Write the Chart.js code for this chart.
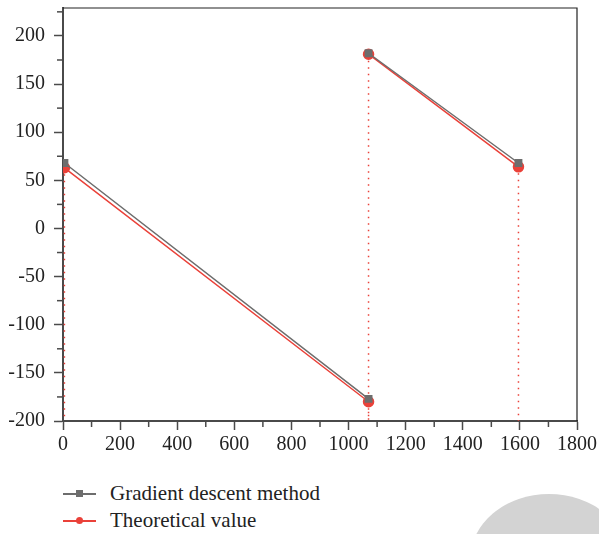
<!DOCTYPE html>
<html>
<head>
<meta charset="utf-8">
<script src="https://cdn.jsdelivr.net/npm/chart.js@4.4.1/dist/chart.umd.min.js"></script>
<style>
  html, body { margin: 0; padding: 0; background: #fff; }
  #wrap { position: relative; width: 599px; height: 534px; overflow: hidden; }
  #box { position: absolute; left: 0; top: 0; width: 599px; height: 455px; }
  #legend { position: absolute; left: 63px; top: 480px; font-family: "Liberation Serif", "DejaVu Serif", serif; font-size: 21px; color: #222; }
  .row { display: flex; align-items: center; height: 27px; }
  .sym { position: relative; width: 33px; height: 12px; margin-right: 14px; }
  .sym .ln { position: absolute; left: 0; right: 0; top: 5px; height: 2px; }
  .sym .mk { position: absolute; left: 13px; top: 2.5px; width: 7px; height: 7px; }
  #blob { position: absolute; left: 470px; top: 494px; width: 158px; height: 132px; border-radius: 50%; background: #d3d3d3; }
</style>
</head>
<body>
<div id="wrap">
  <div id="box"><canvas id="chart"></canvas></div>
  <div id="legend"></div>
  <div id="blob"></div>
</div>
<script>
// valores (null = hueco entre tramos)
const xValues = [5, 1070, 1070, 1070, 1595];
const gradientValues = [68, -177, null, 182, 68];
const theoreticalValues = [63, -180, null, 181, 64];
const labels = ["Gradient descent method", "Theoretical value"];
const xTicks = [0, 200, 400, 600, 800, 1000, 1200, 1400, 1600, 1800];
const yTicks = [-200, -150, -100, -50, 0, 50, 100, 150, 200];

const grayColor = "#6d6d6d";
const redColor = "#ea4139";
const axisColor = "#4a4a4a";
const serif = "'Liberation Serif', 'DejaVu Serif', serif";

const toPoints = values => values.map((v, i) => ({ x: xValues[i], y: v }));

// lineas punteadas desde cada punto teorico hasta el eje x
const dropLines = {
  id: "dropLines",
  beforeDatasetsDraw(chart) {
    const ctx = chart.ctx, area = chart.chartArea;
    const meta = chart.getDatasetMeta(1);
    ctx.save();
    ctx.strokeStyle = redColor;
    ctx.lineWidth = 1.5;
    ctx.setLineDash([1.5, 5]);
    meta.data.forEach((pt, i) => {
      if (theoreticalValues[i] === null) return;
      ctx.beginPath();
      ctx.moveTo(pt.x, pt.y);
      ctx.lineTo(pt.x, area.bottom);
      ctx.stroke();
    });
    ctx.restore();
  }
};

// marco y ticks menores
const frame = {
  id: "frame",
  afterDraw(chart) {
    const ctx = chart.ctx, a = chart.chartArea;
    const xs = chart.scales.x, ys = chart.scales.y;
    ctx.save();
    ctx.strokeStyle = "#222";
    ctx.lineWidth = 1.2;
    ctx.beginPath();
    ctx.moveTo(a.left, a.top);
    ctx.lineTo(a.right, a.top);
    ctx.lineTo(a.right, a.bottom);
    ctx.stroke();
    ctx.strokeStyle = axisColor;
    ctx.lineWidth = 1.5;
    for (let i = 0; i < xTicks.length - 1; i++) {
      const px = xs.getPixelForValue((xTicks[i] + xTicks[i + 1]) / 2);
      ctx.beginPath();
      ctx.moveTo(px, a.bottom);
      ctx.lineTo(px, a.bottom + 6);
      ctx.stroke();
    }
    const minors = [];
    for (let i = 0; i < yTicks.length - 1; i++) minors.push((yTicks[i] + yTicks[i + 1]) / 2);
    minors.push(225);
    minors.forEach(v => {
      const py = ys.getPixelForValue(v);
      ctx.beginPath();
      ctx.moveTo(a.left, py);
      ctx.lineTo(a.left - 6, py);
      ctx.stroke();
    });
    ctx.restore();
  }
};

new Chart(document.getElementById("chart"), {
  type: "line",
  data: {
    datasets: [
      {
        label: labels[0],
        data: toPoints(gradientValues),
        borderColor: grayColor,
        backgroundColor: grayColor,
        borderWidth: 1.5,
        pointStyle: "rect",
        pointRadius: 4.5,
        spanGaps: false
      },
      {
        label: labels[1],
        data: toPoints(theoreticalValues),
        borderColor: redColor,
        backgroundColor: redColor,
        borderWidth: 1.5,
        pointStyle: "circle",
        pointRadius: 5,
        spanGaps: false
      }
    ]
  },
  options: {
    responsive: true,
    maintainAspectRatio: false,
    animation: false,
    layout: { padding: { top: 8, right: 22, left: 0, bottom: 0 } },
    plugins: { legend: { display: false }, tooltip: { enabled: false } },
    scales: {
      x: {
        type: "linear",
        min: 0,
        max: 1800,
        afterBuildTicks: s => { s.ticks = xTicks.map(v => ({ value: v })); },
        afterFit: s => { s.height = 34; s.paddingLeft = 0; s.paddingRight = 0; },
        border: { color: axisColor, width: 2 },
        grid: { drawOnChartArea: false, tickLength: 9, tickColor: axisColor, tickWidth: 1.5 },
        ticks: { color: "#222", padding: 3, font: { family: serif, size: 20 }, maxRotation: 0, callback: v => String(v) }
      },
      y: {
        min: -200,
        max: 229,
        afterBuildTicks: s => { s.ticks = yTicks.map(v => ({ value: v })); },
        afterFit: s => { s.width = 63; s.paddingTop = 0; s.paddingBottom = 0; },
        border: { color: axisColor, width: 2 },
        grid: { drawOnChartArea: false, tickLength: 9, tickColor: axisColor, tickWidth: 1.5 },
        ticks: { color: "#222", padding: 9, font: { family: serif, size: 20 }, callback: v => String(v) }
      }
    }
  },
  plugins: [dropLines, frame]
});

// leyenda en html, apilada en vertical
const legend = document.getElementById("legend");
[[labels[0], grayColor, "0"], [labels[1], redColor, "50%"]].forEach(([text, color, radius]) => {
  const row = document.createElement("div");
  row.className = "row";
  row.innerHTML = `<span class="sym"><span class="ln" style="background:${color}"></span>` +
    `<span class="mk" style="background:${color};border-radius:${radius}"></span></span><span>${text}</span>`;
  legend.appendChild(row);
});
</script>
</body>
</html>
